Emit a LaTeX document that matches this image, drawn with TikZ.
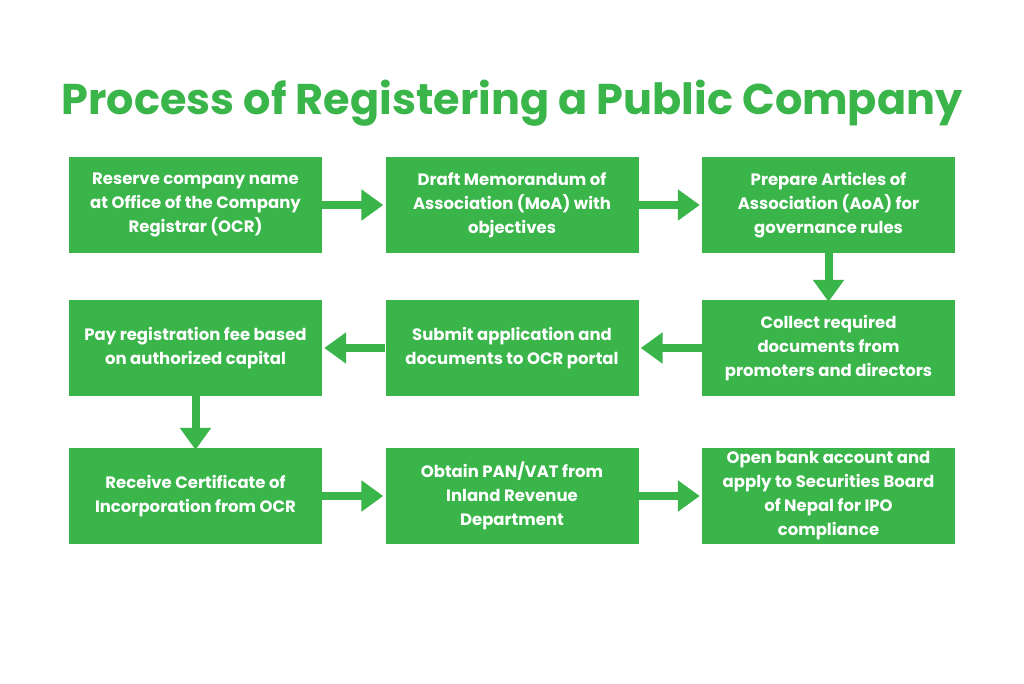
\documentclass[tikz,border=0pt]{standalone}
\usepackage{fontspec}
\setmainfont{Poppins}
\usetikzlibrary{arrows.meta}
\definecolor{grn}{RGB}{57,181,74}
\begin{document}
\begin{tikzpicture}[x=1pt,y=-1pt,
  box/.style={fill=grn,minimum width=253pt,minimum height=96pt,inner sep=0pt,align=center,text=white,font=\bfseries\fontsize{16.5}{24}\selectfont},
  arr/.style={draw=grn,line width=8pt,-{Triangle[width=30pt,length=22pt]}}]
\useasboundingbox (0,0) rectangle (1024,683);
\fill[white] (0,0) rectangle (1024,683);
\node[text=grn,font=\bfseries\fontsize{43}{50}\selectfont] (title) at (512,103) {Process of Registering a Public Company};
\node[box] (b1) at (195.5,205) {Reserve company name\\at Office of the Company\\Registrar (OCR)};
\node[box] (b2) at (512,205) {Draft Memorandum of\\Association (MoA) with\\objectives};
\node[box] (b3) at (828.5,205) {Prepare Articles of\\Association (AoA) for\\governance rules};
\node[box] (b4) at (828.5,348) {Collect required\\documents from\\promoters and directors};
\node[box] (b5) at (512,348) {Submit application and\\documents to OCR portal};
\node[box] (b6) at (195.5,348) {Pay registration fee based\\on authorized capital};
\node[box] (b7) at (195.5,496) {Receive Certificate of\\Incorporation from OCR};
\node[box] (b8) at (512,496) {Obtain PAN/VAT from\\Inland Revenue\\Department};
\node[box] (b9) at (828.5,496) {Open bank account and\\apply to Securities Board\\of Nepal for IPO\\compliance};
\draw[arr] (b1.east) -- ([xshift=-2pt]b2.west);
\draw[arr] (b2.east) -- ([xshift=-2pt]b3.west);
\draw[arr] (b3.south) -- ([yshift=-2pt]b4.north);
\draw[arr] (b4.west) -- ([xshift=2pt]b5.east);
\draw[arr] (b5.west) -- ([xshift=2pt]b6.east);
\draw[arr] (b6.south) -- ([yshift=-2pt]b7.north);
\draw[arr] (b7.east) -- ([xshift=-2pt]b8.west);
\draw[arr] (b8.east) -- ([xshift=-2pt]b9.west);
\end{tikzpicture}
\end{document}
